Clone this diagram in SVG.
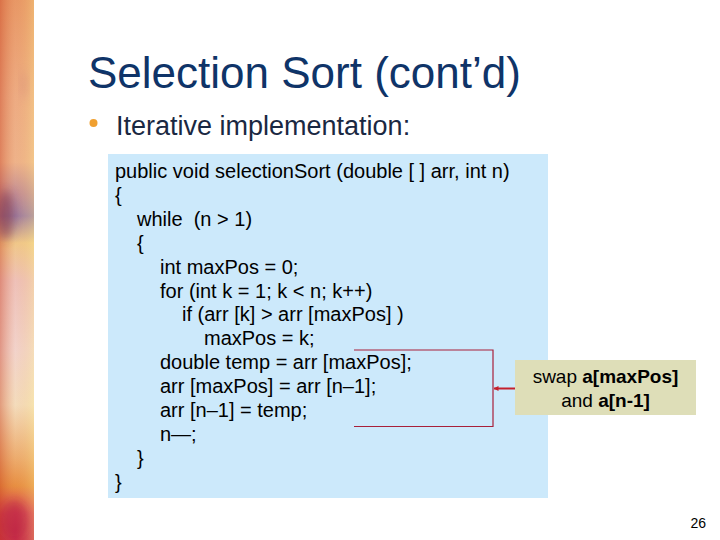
<svg xmlns="http://www.w3.org/2000/svg" width="720" height="540" viewBox="0 0 720 540">
  <defs>
    <linearGradient id="stripV" x1="0" y1="0" x2="0" y2="1">
      <stop offset="0" stop-color="#e99a68"/>
      <stop offset="0.18" stop-color="#efb088"/>
      <stop offset="0.3" stop-color="#f0b890"/>
      <stop offset="0.36" stop-color="#c0909c"/>
      <stop offset="0.4" stop-color="#9a80aa"/>
      <stop offset="0.45" stop-color="#f2d090"/>
      <stop offset="0.52" stop-color="#f0c8c4"/>
      <stop offset="0.65" stop-color="#f4dcd8"/>
      <stop offset="0.75" stop-color="#f6e6c8"/>
      <stop offset="0.85" stop-color="#eeb070"/>
      <stop offset="0.9" stop-color="#e89040"/>
      <stop offset="0.95" stop-color="#d84050"/>
      <stop offset="1" stop-color="#c82848"/>
    </linearGradient>
    <linearGradient id="stripH" x1="0" y1="0" x2="1" y2="0">
      <stop offset="0" stop-color="#c84020" stop-opacity="0.45"/>
      <stop offset="0.45" stop-color="#e08050" stop-opacity="0.1"/>
      <stop offset="1" stop-color="#f8e080" stop-opacity="0.35"/>
    </linearGradient>
    <filter id="soft" x="-1" y="-1" width="3" height="3">
      <feGaussianBlur stdDeviation="5"/>
    </filter>
    <clipPath id="stripClip">
      <rect x="0" y="0" width="34" height="540"/>
    </clipPath>
    <marker id="arrow" viewBox="0 0 10 10" refX="9" refY="5" markerWidth="5" markerHeight="5" orient="auto-start-reverse" markerUnits="userSpaceOnUse">
      <path d="M0,0 L10,5 L0,10 z" fill="#c4202c"/>
    </marker>
    <style>
      .title { font-family: "Liberation Sans", Arial, sans-serif; font-size: 44px; fill: #0f3468; }
      .sub { font-family: "Liberation Sans", Arial, sans-serif; font-size: 27px; fill: #1a2842; }
      .code { font-family: "Liberation Sans", Arial, sans-serif; font-size: 20px; fill: #000000; white-space: pre; }
      .callout { font-family: "Liberation Sans", Arial, sans-serif; font-size: 19px; fill: #000000; }
      .b { font-weight: bold; }
      .bracket { fill: none; stroke: #a8203a; stroke-width: 1.2; }
      .arrowline { fill: none; stroke: #c4202c; stroke-width: 2; }
      .pnum { font-family: "Liberation Sans", Arial, sans-serif; font-size: 14px; fill: #000000; }
    </style>
  </defs>

  <rect x="0" y="0" width="720" height="540" fill="#ffffff"/>

  <!-- decorative left strip -->
  <g id="strip" clip-path="url(#stripClip)">
    <rect x="0" y="0" width="34" height="540" fill="url(#stripV)"/>
    <rect x="0" y="0" width="34" height="540" fill="url(#stripH)"/>
    <ellipse cx="6" cy="215" rx="8" ry="25" fill="#6a2848" opacity="0.45" filter="url(#soft)"/>
    <ellipse cx="24" cy="85" rx="2" ry="14" fill="#c87878" opacity="0.5" filter="url(#soft)"/>
    <ellipse cx="14" cy="520" rx="14" ry="20" fill="#b01840" opacity="0.45" filter="url(#soft)"/>
  </g>

  <!-- title -->
  <text class="title" x="88" y="88">Selection Sort (cont’d)</text>
  <circle cx="93.5" cy="123" r="4" fill="#f0a030"/>
  <text class="sub" x="116" y="135">Iterative implementation:</text>

  <!-- code box -->
  <g id="code-box">
    <rect x="108" y="154" width="440" height="344" fill="#cce9fb"/>
    <text class="code" x="115" y="178">public void selectionSort (double [ ] arr, int n)</text>
    <text class="code" x="115" y="201.9">{</text>
    <text class="code" x="137" y="225.8">while  (n &gt; 1)</text>
    <text class="code" x="137" y="249.7">{</text>
    <text class="code" x="160" y="273.6">int maxPos = 0;</text>
    <text class="code" x="160" y="297.5">for (int k = 1; k &lt; n; k++)</text>
    <text class="code" x="182" y="321.4">if (arr [k] &gt; arr [maxPos] )</text>
    <text class="code" x="204" y="345.3">maxPos = k;</text>
    <text class="code" x="160" y="369.2">double temp = arr [maxPos];</text>
    <text class="code" x="160" y="393.1">arr [maxPos] = arr [n–1];</text>
    <text class="code" x="160" y="417">arr [n–1] = temp;</text>
    <text class="code" x="160" y="440.9">n—;</text>
    <text class="code" x="137" y="464.8">}</text>
    <text class="code" x="115" y="488.7">}</text>
  </g>

  <!-- callout -->
  <g id="callout">
    <rect x="515" y="360" width="181" height="55" fill="#dedeb8"/>
    <text class="callout" x="605.5" y="383" text-anchor="middle">swap <tspan class="b">a[maxPos]</tspan></text>
    <text class="callout" x="605.5" y="406.5" text-anchor="middle">and <tspan class="b">a[n-1]</tspan></text>
  </g>

  <!-- connectors -->
  <g id="connectors">
    <path class="bracket" d="M354,350 H493 V426.5 H354"/>
    <line class="arrowline" x1="515" y1="388.5" x2="494" y2="388.5" marker-end="url(#arrow)"/>
  </g>

  <text class="pnum" x="706" y="528" text-anchor="end">26</text>
</svg>
